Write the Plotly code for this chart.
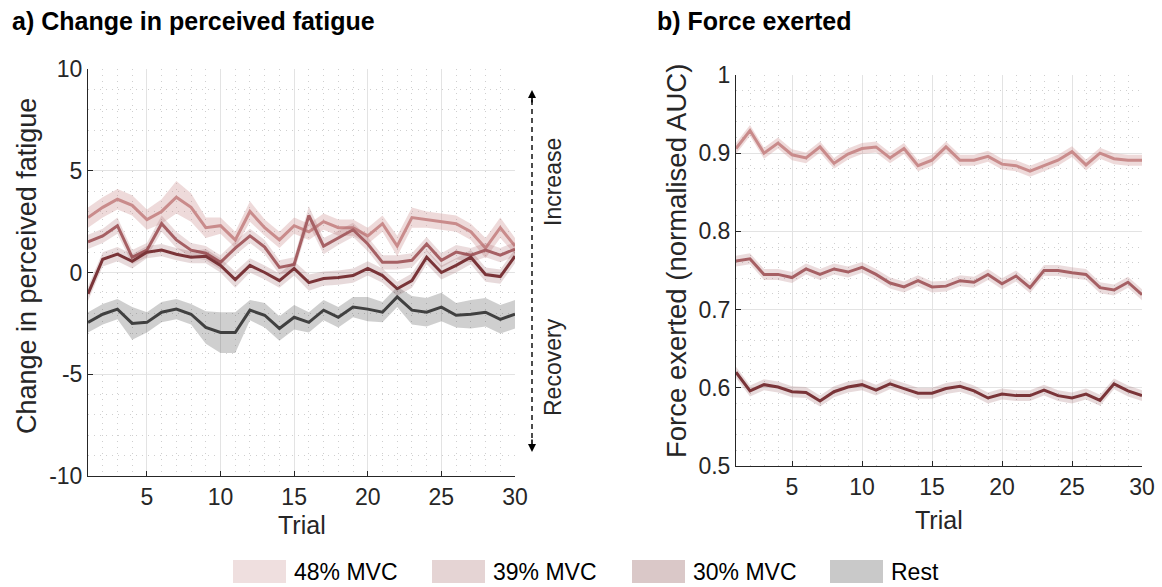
import plotly.graph_objects as go

trials = list(range(1, 31))

# a) Change in perceived fatigue (mean and half-width of shaded band)
fat_48 = [2.7, 3.2, 3.6, 3.3, 2.6, 3.0, 3.7, 3.2, 2.2, 2.3, 1.6, 3.0, 2.2, 1.6, 2.3,
          2.0, 2.5, 2.2, 2.2, 1.8, 2.4, 1.3, 2.7, 2.6, 2.5, 2.4, 2.0, 1.2, 2.2, 1.3]
fat_48_err = [0.5, 0.5, 0.5, 0.5, 0.5, 0.6, 0.8, 0.7, 0.5, 0.4, 0.4, 0.5, 0.4, 0.4, 0.4,
              0.4, 0.4, 0.4, 0.4, 0.4, 0.4, 0.5, 0.5, 0.4, 0.4, 0.4, 0.4, 0.5, 0.5, 0.4]
fat_39 = [1.5, 1.8, 2.3, 0.75, 1.1, 2.4, 1.6, 1.1, 0.95, 0.5, 1.2, 1.8, 1.25, 0.25, 0.4,
          2.8, 1.3, 1.7, 2.1, 1.4, 0.5, 0.5, 0.6, 1.4, 0.6, 1.0, 0.85, 1.1, 0.85, 1.15]
fat_39_err = [0.35, 0.35, 0.4, 0.35, 0.35, 0.4, 0.4, 0.35, 0.35, 0.35, 0.35, 0.35, 0.35, 0.35, 0.35,
              0.45, 0.4, 0.35, 0.35, 0.35, 0.35, 0.35, 0.35, 0.35, 0.35, 0.35, 0.35, 0.35, 0.35, 0.35]
fat_30 = [-1.05, 0.65, 0.9, 0.55, 1.0, 1.1, 0.9, 0.75, 0.8, 0.35, -0.35, 0.35, 0.0, -0.4, 0.2,
          -0.5, -0.3, -0.25, -0.15, 0.2, -0.15, -0.8, -0.4, 0.75, 0.0, 0.35, 0.75, -0.1, -0.2, 0.8]
fat_30_err = [0.35, 0.35, 0.35, 0.35, 0.3, 0.3, 0.3, 0.3, 0.35, 0.35, 0.4, 0.35, 0.35, 0.35, 0.35,
              0.4, 0.35, 0.35, 0.35, 0.35, 0.35, 0.35, 0.35, 0.35, 0.35, 0.35, 0.35, 0.35, 0.35, 0.35]
fat_rest = [-2.45, -2.05, -1.8, -2.5, -2.45, -1.95, -1.8, -2.05, -2.7, -2.95, -2.95, -1.85, -2.1, -2.75, -2.2,
            -2.45, -1.85, -2.2, -1.7, -1.8, -1.95, -1.2, -1.85, -1.95, -1.7, -2.1, -2.05, -1.95, -2.3, -2.05]
fat_rest_err = [0.5, 0.5, 0.5, 0.8, 0.5, 0.5, 0.5, 0.5, 0.8, 1.0, 1.0, 0.5, 0.6, 0.6, 0.6,
                0.5, 0.5, 0.5, 0.5, 0.6, 0.5, 0.5, 0.7, 0.7, 0.7, 0.6, 0.7, 0.7, 0.7, 0.7]

# b) Force exerted (normalised AUC)
frc_48 = [0.906, 0.929, 0.900, 0.913, 0.898, 0.894, 0.908, 0.887, 0.899, 0.906, 0.908, 0.894, 0.906, 0.884, 0.891,
          0.908, 0.891, 0.891, 0.896, 0.886, 0.884, 0.877, 0.884, 0.891, 0.902, 0.885, 0.900, 0.893, 0.891, 0.891]
frc_39 = [0.762, 0.765, 0.745, 0.745, 0.741, 0.752, 0.745, 0.752, 0.748, 0.754, 0.745, 0.734, 0.729, 0.737, 0.729,
          0.730, 0.737, 0.735, 0.745, 0.733, 0.743, 0.728, 0.750, 0.750, 0.747, 0.745, 0.728, 0.725, 0.735, 0.719]
frc_30 = [0.620, 0.596, 0.604, 0.601, 0.595, 0.594, 0.583, 0.595, 0.601, 0.604, 0.597, 0.605, 0.599, 0.593, 0.593,
          0.599, 0.602, 0.596, 0.587, 0.592, 0.590, 0.590, 0.597, 0.590, 0.587, 0.592, 0.584, 0.605, 0.596, 0.590]
frc_err = [0.007] * 30

labels = ["48% MVC", "39% MVC", "30% MVC", "Rest"]
line_colors = ["rgb(201,139,139)", "rgb(166,96,100)", "rgb(122,52,56)", "rgb(64,64,64)"]
band_colors = ["rgba(201,139,139,0.32)", "rgba(166,96,100,0.22)", "rgba(122,52,56,0.18)", "rgba(64,64,64,0.25)"]
patch_colors = ["#efdfdf", "#e5d4d4", "#dac8c8", "#c9c9c9"]

FONT = "Liberation Sans, Arial, sans-serif"
TXT = "#262626"

fig = go.Figure()


def add_series(x, y, err, i, xa, ya):
    up = [a + e for a, e in zip(y, err)]
    lo = [a - e for a, e in zip(y, err)]
    fig.add_trace(go.Scatter(x=x + x[::-1], y=up + lo[::-1], fill="toself",
                             fillcolor=band_colors[i], line=dict(width=0),
                             hoverinfo="skip", showlegend=False, xaxis=xa, yaxis=ya))
    fig.add_trace(go.Scatter(x=x, y=y, mode="lines", name=labels[i],
                             line=dict(color=line_colors[i], width=3),
                             showlegend=False, xaxis=xa, yaxis=ya))


for i, (y, e) in enumerate([(fat_48, fat_48_err), (fat_39, fat_39_err),
                            (fat_30, fat_30_err), (fat_rest, fat_rest_err)]):
    add_series(trials, y, e, i, "x", "y")

for i, y in enumerate([frc_48, frc_39, frc_30]):
    add_series(trials, y, frc_err, i, "x2", "y2")

W, H = 1162, 587


def px(x):
    return x / W


def py(y):
    return 1 - y / H


axis_common = dict(
    automargin=False,
    showline=True, linecolor="#262626", linewidth=1,
    ticks="inside", ticklen=5, tickcolor="#262626",
    showgrid=True, gridcolor="#e3e3e3", gridwidth=1,
    zeroline=False,
    tickfont=dict(family=FONT, size=23, color=TXT),
)
minor_grid = dict(showgrid=True, gridcolor="#cfcfcf", griddash="1px,5px", ticks="")

fig.update_layout(
    width=W, height=H,
    margin=dict(l=0, r=0, t=0, b=0),
    paper_bgcolor="white", plot_bgcolor="white",
    showlegend=False,
    xaxis=dict(domain=[px(88), px(515)], range=[1, 30], anchor="y",
               tickvals=[5, 10, 15, 20, 25, 30],
               minor=dict(dtick=1, tick0=1, **minor_grid), **axis_common),
    yaxis=dict(domain=[py(476), py(69)], range=[-10, 10], anchor="x",
               tickvals=[-10, -5, 0, 5, 10], ticktext=["-10", "-5", "0", "5", "10"],
               minor=dict(dtick=1, **minor_grid), **axis_common),
    xaxis2=dict(domain=[px(736), px(1142)], range=[1, 30], anchor="y2",
                tickvals=[5, 10, 15, 20, 25, 30],
                minor=dict(dtick=1, tick0=1, **minor_grid), **axis_common),
    yaxis2=dict(domain=[py(466), py(75)], range=[0.5, 1], anchor="x2",
                tickvals=[0.5, 0.6, 0.7, 0.8, 0.9, 1.0],
                ticktext=["0.5", "0.6", "0.7", "0.8", "0.9", "1"],
                minor=dict(dtick=0.02, **minor_grid), **axis_common),
)

ann = []
# panel titles
ann.append(dict(text="<b>a) Change in perceived fatigue</b>", x=px(10), y=py(21),
                xanchor="left", yanchor="middle", showarrow=False,
                font=dict(family=FONT, size=25, color="#000000")))
ann.append(dict(text="<b>b) Force exerted</b>", x=px(655), y=py(21),
                xanchor="left", yanchor="middle", showarrow=False,
                font=dict(family=FONT, size=25, color="#000000")))
# axis titles
ann.append(dict(text="Change in perceived fatigue", x=px(27), y=py(266), textangle=-90,
                xanchor="center", yanchor="middle", showarrow=False,
                font=dict(family=FONT, size=27, color=TXT)))
ann.append(dict(text="Force exerted (normalised AUC)", x=px(676), y=py(261), textangle=-90,
                xanchor="center", yanchor="middle", showarrow=False,
                font=dict(family=FONT, size=27.5, color=TXT)))
ann.append(dict(text="Trial", x=px(302), y=py(525), xanchor="center", yanchor="middle",
                showarrow=False, font=dict(family=FONT, size=25, color=TXT)))
ann.append(dict(text="Trial", x=px(939), y=py(520), xanchor="center", yanchor="middle",
                showarrow=False, font=dict(family=FONT, size=25, color=TXT)))
# increase / recovery arrow
ann.append(dict(text="", x=px(532), y=py(90), ax=0, ay=14, showarrow=True,
                arrowhead=2, arrowsize=1, arrowwidth=1.6, arrowcolor="#000000"))
ann.append(dict(text="", x=px(532), y=py(452), ax=0, ay=-14, showarrow=True,
                arrowhead=2, arrowsize=1, arrowwidth=1.6, arrowcolor="#000000"))
ann.append(dict(text="Increase", x=px(553), y=py(182), textangle=-90,
                xanchor="center", yanchor="middle", showarrow=False,
                font=dict(family=FONT, size=23, color=TXT)))
ann.append(dict(text="Recovery", x=px(553), y=py(367), textangle=-90,
                xanchor="center", yanchor="middle", showarrow=False,
                font=dict(family=FONT, size=23, color=TXT)))

shapes = [dict(type="line", xref="paper", yref="paper", x0=px(532), x1=px(532),
               y0=py(100), y1=py(442), line=dict(color="#000000", width=1.4, dash="5px,4px"))]

# legend (custom patches)
leg_x = [233, 432, 632, 830]
for i, lx in enumerate(leg_x):
    shapes.append(dict(type="rect", xref="paper", yref="paper",
                       x0=px(lx), x1=px(lx + 53), y0=py(583), y1=py(560),
                       fillcolor=patch_colors[i], line=dict(width=0)))
    ann.append(dict(text=labels[i], x=px(lx + 59), y=py(572), xanchor="left", yanchor="middle",
                    showarrow=False, font=dict(family=FONT, size=23, color="#000000")))

for a in ann:
    a.setdefault("xref", "paper")
    a.setdefault("yref", "paper")

fig.update_layout(annotations=ann, shapes=shapes)

fig.write_html("out.html")
